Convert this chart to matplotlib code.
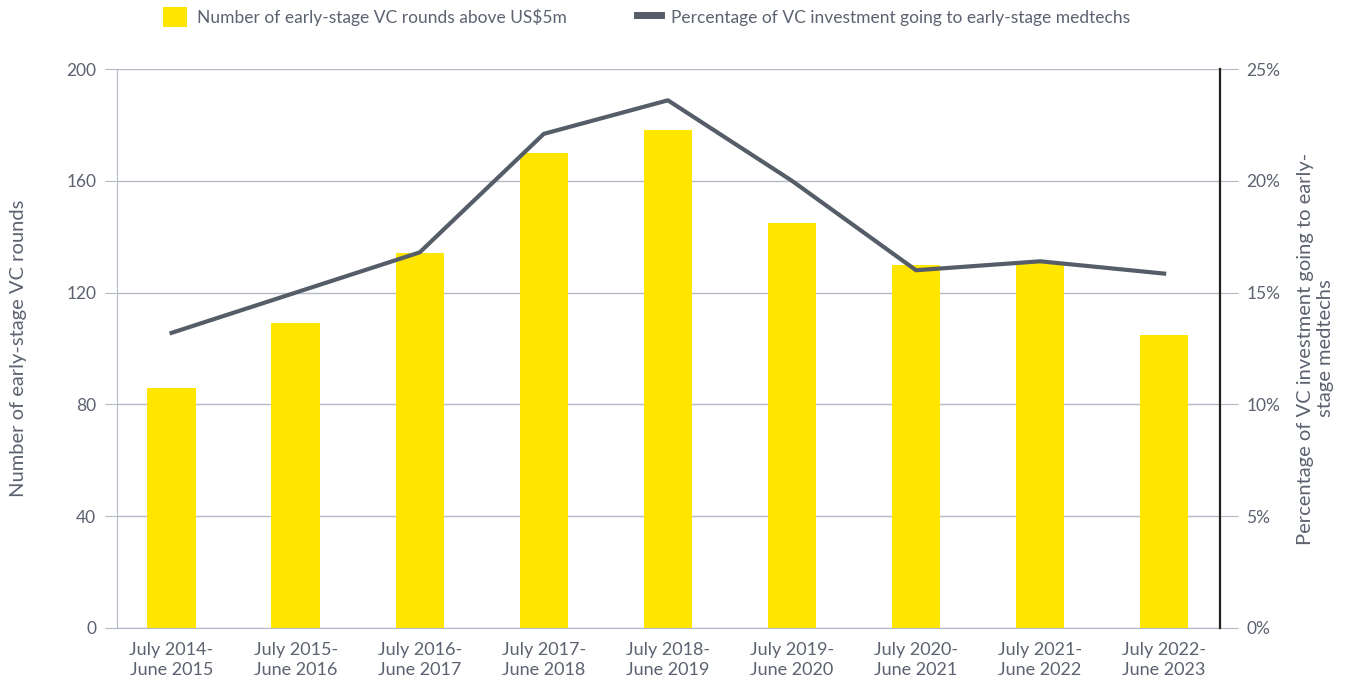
import numpy as np
import matplotlib
matplotlib.use('Agg')
import matplotlib.pyplot as plt
from matplotlib.patches import Patch
from matplotlib.lines import Line2D

plt.rcParams['font.family'] = ['Lato', 'DejaVu Sans']

periods = ['July 2014-\nJune 2015', 'July 2015-\nJune 2016', 'July 2016-\nJune 2017',
           'July 2017-\nJune 2018', 'July 2018-\nJune 2019', 'July 2019-\nJune 2020',
           'July 2020-\nJune 2021', 'July 2021-\nJune 2022', 'July 2022-\nJune 2023']
rounds = [86, 109, 134, 170, 178, 145, 130, 131, 105]
pct_share = [13.2, 15.0, 16.8, 22.1, 23.6, 20.0, 16.0, 16.4, 15.85]

yellow = '#FFE600'
line_col = '#555D69'
grid_col = '#B4BAC6'
text_col = '#5C6270'

fig = plt.figure(figsize=(13.49, 6.85), dpi=100)
ax = fig.add_axes([117/1349, 1 - 628/685, (1220 - 117)/1349, (628 - 69)/685])
ax2 = ax.twinx()

x = np.arange(len(periods))
ax.bar(x, rounds, width=0.39, color=yellow, zorder=2)
ax2.plot(x, pct_share, color=line_col, lw=3, zorder=3)

ax.set_xlim(-0.44, 8.45)
ax.set_ylim(0, 200)
ax.set_yticks([0, 40, 80, 120, 160, 200])
ax2.set_ylim(0, 25)
ax2.set_yticks([0, 5, 10, 15, 20, 25])
ax2.set_yticklabels(['%d%%' % v for v in [0, 5, 10, 15, 20, 25]])

ax.set_xticks(x)
ax.set_xticklabels(periods, fontsize=13, color=text_col, linespacing=1.35)
ax.grid(axis='y', color=grid_col, lw=1, zorder=0)
ax.set_axisbelow(True)

for s in ['top']:
    ax.spines[s].set_visible(False)
    ax2.spines[s].set_visible(False)
ax.spines['left'].set_color(grid_col)
ax.spines['bottom'].set_color(grid_col)
ax.spines['right'].set_visible(False)
ax2.spines['left'].set_visible(False)
ax2.spines['bottom'].set_visible(False)
ax2.spines['right'].set_color('#222222')
ax2.spines['right'].set_linewidth(1.6)

ax.tick_params(axis='y', length=9, color=grid_col, labelsize=12.5, labelcolor=text_col, pad=6)
ax.tick_params(axis='x', length=0, pad=10)
ax2.tick_params(axis='y', length=13, color=grid_col, labelsize=12.5, labelcolor=text_col, pad=6)

ax.set_ylabel('Number of early-stage VC rounds', fontsize=14.5, color=text_col, labelpad=28)
ax2.set_ylabel('Percentage of VC investment going to early-\nstage medtechs', fontsize=14.5,
               color=text_col, labelpad=12, linespacing=1.2)

handles = [Patch(facecolor=yellow, edgecolor='none'),
           Line2D([0], [0], color=line_col, lw=5)]
labels = ['Number of early-stage VC rounds above US$5m',
          'Percentage of VC investment going to early-stage medtechs']
fig.legend(handles, labels, loc='upper left', bbox_to_anchor=(147/1349, 1.012), ncol=2,
           frameon=False, fontsize=12.5, labelcolor=text_col, columnspacing=4.0,
           handlelength=1.4, handleheight=1.4, handletextpad=0.6)

fig.savefig('out.png', dpi=100)
